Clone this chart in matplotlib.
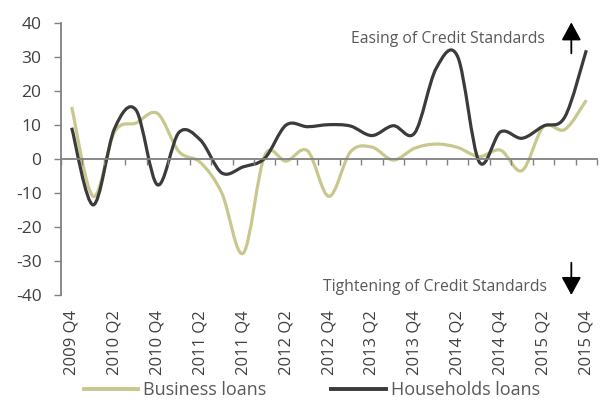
import matplotlib
matplotlib.use("Agg")
import matplotlib.pyplot as plt
from matplotlib.path import Path
from matplotlib.patches import PathPatch
from matplotlib.lines import Line2D
import matplotlib.transforms as mtransforms

# ------------------------------------------------------------
# data
# ------------------------------------------------------------
quarters = [
    "2009 Q4", "2010 Q1", "2010 Q2", "2010 Q3", "2010 Q4",
    "2011 Q1", "2011 Q2", "2011 Q3", "2011 Q4",
    "2012 Q1", "2012 Q2", "2012 Q3", "2012 Q4",
    "2013 Q1", "2013 Q2", "2013 Q3", "2013 Q4",
    "2014 Q1", "2014 Q2", "2014 Q3", "2014 Q4",
    "2015 Q1", "2015 Q2", "2015 Q3", "2015 Q4",
]
business = [15.3, -11, 8, 10.6, 13.4, 2.2, -1, -10, -27.7, 1.0, -0.6, 2.4,
            -11, 2.1, 3.5, -0.3, 3.2, 4.4, 3.4, 0.7, 2.6, -3.4, 9.5, 8.7, 17.3]
households = [9.2, -13.5, 9, 14.4, -7.6, 7.8, 5.6, -4.1, -2.3, 0.2, 10, 9.5,
              10.1, 9.7, 6.9, 9.8, 7.7, 26.7, 30.1, -0.8, 8, 6.1, 9.7, 12.4, 32]
yticks = [40, 30, 20, 10, 0, -10, -20, -30, -40]

BUS_COLOR = "#c8c88e"
HH_COLOR = "#3b3b3b"
GRAY = "#808080"
TXT = "#404040"
FONT = "Open Sans"


def smooth_path(xs, ys):
    # Excel-style smoothed line: cubic bezier segments (Catmull-Rom control points)
    verts = [(xs[0], ys[0])]
    codes = [Path.MOVETO]
    n = len(xs)
    for i in range(n - 1):
        x0, y0 = xs[max(i - 1, 0)], ys[max(i - 1, 0)]
        x1, y1 = xs[i], ys[i]
        x2, y2 = xs[i + 1], ys[i + 1]
        x3, y3 = xs[min(i + 2, n - 1)], ys[min(i + 2, n - 1)]
        c1 = (x1 + (x2 - x0) / 6.0, y1 + (y2 - y0) / 6.0)
        c2 = (x2 - (x3 - x1) / 6.0, y2 - (y3 - y1) / 6.0)
        verts += [c1, c2, (x2, y2)]
        codes += [Path.CURVE4] * 3
    return Path(verts, codes)


fig = plt.figure(figsize=(6.08, 4.01), dpi=100)
ax = fig.add_axes([0.1003, 0.2643, 0.8817, 0.6783])

x = list(range(len(quarters)))
for vals, col in [(business, BUS_COLOR), (households, HH_COLOR)]:
    patch = PathPatch(smooth_path(x, vals), facecolor="none", edgecolor=col,
                      lw=2.3, capstyle="butt", joinstyle="round")
    ax.add_patch(patch)

ax.set_xlim(-0.5, len(quarters) - 0.5)
ax.set_ylim(-40, 40)

# y axis
ax.set_yticks(yticks)
ax.set_yticklabels([str(v) for v in yticks], fontsize=12.5, color=TXT, family=FONT)
ax.tick_params(axis="y", length=5, width=1, color=GRAY, pad=9)
ax.spines["left"].set_color(GRAY)
ax.spines["left"].set_linewidth(1.3)
for s in ["top", "right"]:
    ax.spines[s].set_visible(False)

# category axis sits on zero, ticks between categories
ax.spines["bottom"].set_position(("data", 0))
ax.spines["bottom"].set_color(GRAY)
ax.spines["bottom"].set_linewidth(1.3)
ax.set_xticks([i - 0.5 for i in range(len(quarters) + 1)])
ax.set_xticklabels([])
ax.tick_params(axis="x", length=4, width=1, color=GRAY, direction="out")

trans = mtransforms.blended_transform_factory(ax.transData, ax.transAxes)
for i in range(0, len(quarters), 2):
    ax.text(i, -0.055, quarters[i], rotation=90, ha="center", va="top",
            fontsize=12, color=TXT, family=FONT, transform=trans)

# annotations
ax.text(22.05, 35.3, "Easing of Credit Standards", ha="right", va="center",
        fontsize=11.3, color="#595959", family=FONT)
ax.text(22.15, -37.6, "Tightening of Credit Standards", ha="right", va="center",
        fontsize=11.3, color="#595959", family=FONT)
arrow_kw = dict(arrowstyle="-|>,head_length=0.55,head_width=0.3", color="black",
                lw=1.3, mutation_scale=20, shrinkA=0, shrinkB=0)
ax.annotate("", xy=(23.3, 40.2), xytext=(23.3, 31.1), annotation_clip=False,
            arrowprops=arrow_kw)
ax.annotate("", xy=(23.3, -40.0), xytext=(23.3, -30.5), annotation_clip=False,
            arrowprops=arrow_kw)

# legend
handles = [Line2D([], [], color=BUS_COLOR, lw=2.8),
           Line2D([], [], color=HH_COLOR, lw=2.8)]
fig.legend(handles, ["Business loans", "Households loans"], loc="center",
           bbox_to_anchor=(0.513, 0.027), ncol=2, frameon=False,
           handlelength=3.0, handletextpad=0.3, columnspacing=3.6,
           prop={"family": FONT, "size": 13}, labelcolor="#595959")

fig.savefig("out.png", dpi=100)
